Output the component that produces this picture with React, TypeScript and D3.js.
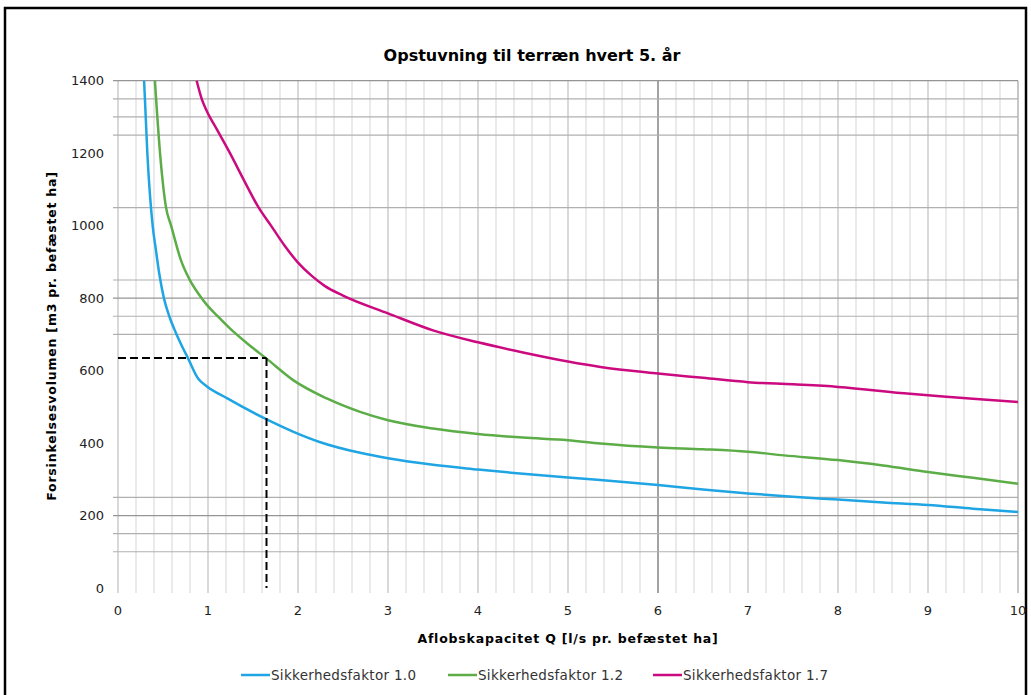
import React from "react";
import * as d3 from "d3";

const W = 1031;
const H = 695;

const blueX = [0.29, 0.326, 0.385, 0.42, 0.46, 0.51, 0.57, 0.64, 0.71, 0.78, 0.89, 0.985, 1.21, 1.63, 1.95, 2.24, 2.69, 3.0, 3.5, 4.0, 4.5, 5.0, 5.36, 6, 6.5, 7, 7.5, 8, 8.5, 9, 9.5, 10];
const blueY = [1400, 1200, 1000, 935, 865, 800, 750, 706, 668, 633, 578, 557, 524, 468, 431, 403, 373, 358, 340, 327, 315, 305, 298, 284, 272, 261, 252, 244, 236, 229, 219, 210];

const greenX = [0.41, 0.467, 0.533, 0.59, 0.7, 0.8, 0.9, 0.985, 1.1, 1.24, 1.45, 1.65, 1.95, 2.32, 2.69, 3.0, 3.5, 4.0, 4.5, 5.0, 5.36, 6, 6.5, 7, 7.4, 8, 8.5, 9, 9.5, 10];
const greenY = [1400, 1200, 1051, 1000, 904, 849, 810, 782, 752, 717, 672, 633, 573, 523, 486, 463, 440, 425, 415, 408, 399, 388, 383, 376, 366, 353, 338, 320, 304, 288];

const magentaX = [0.874, 0.93, 0.985, 1.1, 1.244, 1.4, 1.56, 1.7, 1.85, 2.0, 2.15, 2.3, 2.5, 3.0, 3.5, 4.0, 4.5, 5.0, 5.36, 6, 6.5, 7, 7.5, 8, 8.8, 9, 9.5, 10];
const magentaY = [1400, 1350, 1317, 1265, 1200, 1125, 1051, 1000, 945, 898, 862, 833, 807, 758, 711, 678, 650, 625, 610, 592, 580, 568, 562, 555, 536, 532, 522, 513];

const seriesNames = ["Sikkerhedsfaktor 1.0", "Sikkerhedsfaktor 1.2", "Sikkerhedsfaktor 1.7"];
const seriesColors = ["#1fa5e3", "#5cad47", "#cc0a80"];

const xTicks = [0, 1, 2, 3, 4, 5, 6, 7, 8, 9, 10];
const yTicks = [0, 200, 400, 600, 800, 1000, 1200, 1400];
const hGrid = [100, 150, 200, 250, 700, 750, 800, 850, 1050, 1250, 1300, 1350, 1400];
const hGridDark = [200, 800, 1400];
const vGrid = d3.range(0, 51).map((i) => i / 5);

const refQ = 1.65;
const refV = 635;

const title = "Opstuvning til terræn hvert 5. år";
const xLabel = "Aflobskapacitet Q [l/s pr. befæstet ha]";
const yLabel = "Forsinkelsesvolumen [m3 pr. befæstet ha]";

export default function App() {
  const x = d3.scaleLinear().domain([0, 10]).range([118, 1018]);
  const y = d3.scaleLinear().domain([0, 1400]).range([588, 80.7]);

  const series = [
    blueX.map((v, i) => [v, blueY[i]] as [number, number]),
    greenX.map((v, i) => [v, greenY[i]] as [number, number]),
    magentaX.map((v, i) => [v, magentaY[i]] as [number, number]),
  ];
  const line = d3
    .line<[number, number]>()
    .x((d) => x(d[0]))
    .y((d) => y(d[1]))
    .curve(d3.curveMonotoneX);

  const font = "'DejaVu Sans', Verdana, sans-serif";
  const legendX = [241, 448, 653];

  return (
    <svg
      width={W}
      height={H}
      style={{ position: "absolute", left: 0, top: 0, background: "#fff" }}
      fontFamily={font}
    >
      <rect x={0} y={0} width={W} height={H} fill="#fff" />
      <rect x={5} y={8} width={1021} height={720} fill="none" stroke="#000" strokeWidth={2.5} />

      {vGrid.map((g, i) => {
        const isInt = Math.abs(g - Math.round(g)) < 1e-6;
        let stroke = "#e3e3e3";
        if (isInt) stroke = "#cdcdcd";
        if (Math.abs(g - 6) < 1e-6) stroke = "#858585";
        if (Math.abs(g - 10) < 1e-6) stroke = "#b5b5b5";
        return (
          <line key={"v" + i} x1={x(g)} x2={x(g)} y1={y(1400)} y2={593} stroke={stroke} strokeWidth={1.5} />
        );
      })}
      {hGrid.map((g, i) => (
        <line
          key={"h" + i}
          x1={113}
          x2={x(10)}
          y1={y(g)}
          y2={y(g)}
          stroke={hGridDark.includes(g) ? "#959595" : "#b0b0b0"}
          strokeWidth={1.2}
        />
      ))}

      {series.map((s, i) => (
        <path key={"s" + i} d={line(s) || ""} fill="none" stroke={seriesColors[i]} strokeWidth={2.5} />
      ))}

      <path
        d={`M${x(0)},${y(refV)}H${x(refQ)}`}
        stroke="#000"
        strokeWidth={2}
        strokeDasharray="8,4"
        fill="none"
      />
      <path
        d={`M${x(refQ)},${y(refV)}V${y(0)}`}
        stroke="#000"
        strokeWidth={2}
        strokeDasharray="8,4"
        fill="none"
      />

      {yTicks.map((t) => (
        <text key={"yt" + t} x={104} y={y(t)} dy="0.35em" textAnchor="end" fontSize={13} fill="#222">
          {t}
        </text>
      ))}
      {xTicks.map((t) => (
        <text key={"xt" + t} x={x(t)} y={615} textAnchor="middle" fontSize={13} fill="#222">
          {t}
        </text>
      ))}

      <text x={532} y={61} textAnchor="middle" fontSize={16} fontWeight="bold" fill="#000">
        {title}
      </text>
      <text x={568} y={643} textAnchor="middle" fontSize={12.5} fontWeight="bold" letterSpacing={0.8} fill="#000">
        {xLabel}
      </text>
      <text
        transform={`translate(56,336) rotate(-90)`}
        textAnchor="middle"
        fontSize={12.5}
        fontWeight="bold"
        letterSpacing={0.8}
        fill="#000"
      >
        {yLabel}
      </text>

      {seriesNames.map((n, i) => (
        <g key={"lg" + i}>
          <line x1={legendX[i]} x2={legendX[i] + 29} y1={675} y2={675} stroke={seriesColors[i]} strokeWidth={2.5} />
          <text x={legendX[i] + 30} y={680} fontSize={13.5} letterSpacing={0.3} fill="#333">
            {n}
          </text>
        </g>
      ))}
    </svg>
  );
}
